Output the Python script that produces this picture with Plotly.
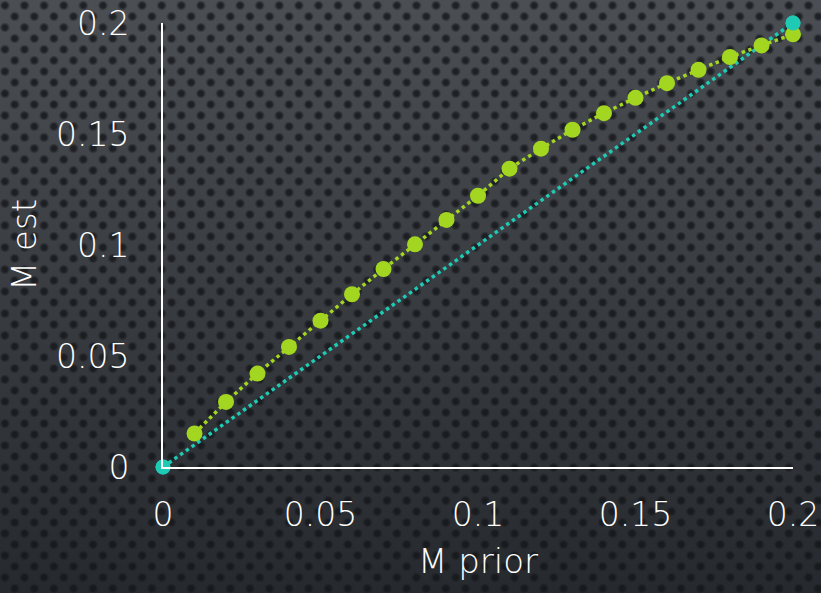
import base64
import plotly.graph_objects as go

# data
prior_green = [0.01, 0.02, 0.03, 0.04, 0.05, 0.06, 0.07, 0.08, 0.09, 0.10,
               0.11, 0.12, 0.13, 0.14, 0.15, 0.16, 0.17, 0.18, 0.19, 0.20]
est_green = [0.0151, 0.0293, 0.0421, 0.0541, 0.0659, 0.0778, 0.0892, 0.1003, 0.1113, 0.1222,
             0.1344, 0.1434, 0.1519, 0.1594, 0.1663, 0.1729, 0.1789, 0.1847, 0.1899, 0.1949]
prior_teal = [0.0, 0.2]
est_teal = [0.0, 0.2]
tick_vals = [0, 0.05, 0.1, 0.15, 0.2]
tick_text = ["0", "0.05", "0.1", "0.15", "0.2"]

W, H = 821, 593
L, R, T, B = 163, 28, 23, 126

GREEN = "#a3d621"
TEAL = "#1fcab5"
FONT = "DejaVu Sans"
FW = 200

svg = f"""<svg xmlns='http://www.w3.org/2000/svg' width='{W}' height='{H}'>
<defs>
<linearGradient id='g' x1='0' y1='0' x2='0' y2='1'>
<stop offset='0' stop-color='#4b4e53'/><stop offset='1' stop-color='#26292d'/></linearGradient>
<radialGradient id='d'><stop offset='0.45' stop-color='#14161a' stop-opacity='0.8'/>
<stop offset='1' stop-color='#14161a' stop-opacity='0'/></radialGradient>
<pattern id='p' width='19.6' height='22' patternUnits='userSpaceOnUse'>
<circle cx='4.9' cy='5.5' r='5.2' fill='url(#d)'/>
<circle cx='14.7' cy='16.5' r='5.2' fill='url(#d)'/>
</pattern>
</defs>
<rect width='{W}' height='{H}' fill='url(#g)'/>
<rect width='{W}' height='{H}' fill='url(#p)'/>
</svg>"""
bg_src = "data:image/svg+xml;base64," + base64.b64encode(svg.encode()).decode()

pw, ph = W - L - R, H - T - B

fig = go.Figure()
fig.add_trace(go.Scatter(
    x=prior_teal, y=est_teal, mode="lines+markers",
    line=dict(color=TEAL, width=3.5, dash="3.5px,3.5px"),
    marker=dict(color=TEAL, size=15),
    cliponaxis=False, showlegend=False, hoverinfo="skip"))
fig.add_trace(go.Scatter(
    x=prior_green, y=est_green, mode="lines+markers",
    line=dict(color=GREEN, width=3.5, dash="3.5px,3.5px"),
    marker=dict(color=GREEN, size=16),
    cliponaxis=False, showlegend=False, hoverinfo="skip"))
fig.add_trace(go.Scatter(
    x=prior_teal, y=est_teal, mode="markers",
    marker=dict(color=TEAL, size=15),
    cliponaxis=False, showlegend=False, hoverinfo="skip"))

tf = dict(size=33, color="white", family=FONT, weight=FW)
ttf = dict(size=34, color="white", family=FONT, weight=FW)
fig.update_layout(
    width=W, height=H, autosize=False,
    margin=dict(l=L, r=R, t=T, b=B, pad=0, autoexpand=False),
    paper_bgcolor="#33363a", plot_bgcolor="rgba(0,0,0,0)",
    font=dict(family=FONT, color="white", weight=FW),
    images=[dict(source=bg_src, xref="paper", yref="paper",
                 x=-L / pw, y=1 + T / ph, sizex=W / pw, sizey=H / ph,
                 xanchor="left", yanchor="top", sizing="stretch", layer="below")],
    xaxis=dict(range=[0, 0.2], tickvals=tick_vals, ticktext=tick_text, automargin=False,
               showgrid=False, zeroline=False, showline=True, linecolor="white", linewidth=2,
               ticks="", ticklabelstandoff=17, tickfont=tf,
               title=dict(text="M prior", font=ttf, standoff=17)),
    yaxis=dict(range=[0, 0.2], tickvals=tick_vals, ticktext=tick_text, automargin=False,
               showgrid=False, zeroline=False, showline=True, linecolor="white", linewidth=2,
               ticks="", ticklabelstandoff=25, tickfont=tf,
               title=dict(text="M est", font=ttf, standoff=9)),
)

fig.write_html("out.html", config={"displayModeBar": False},
               post_script="document.body.style.margin='0';document.body.style.overflow='hidden';")
